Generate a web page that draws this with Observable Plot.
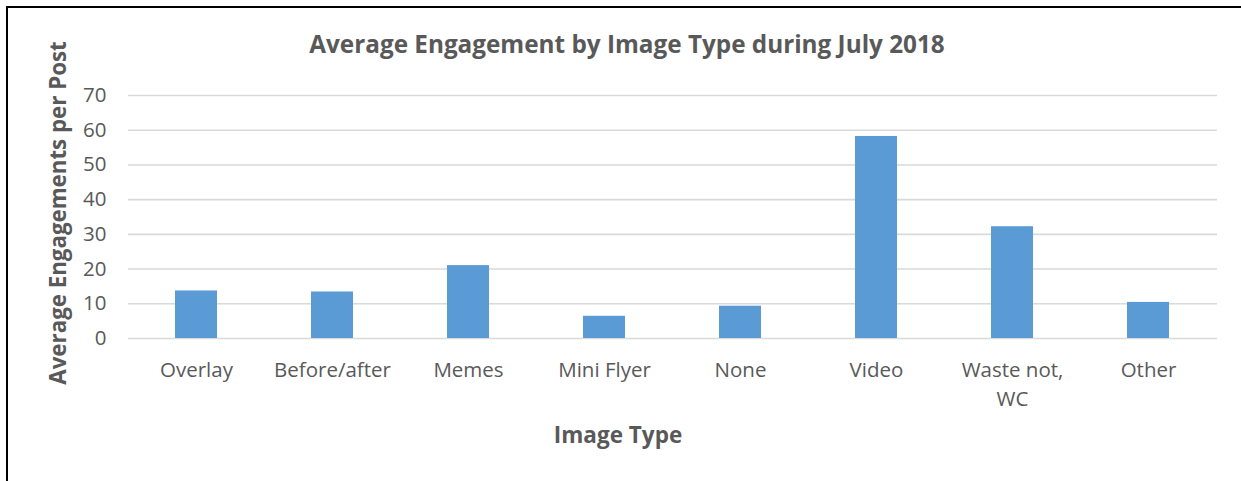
<!DOCTYPE html>
<html>
<head>
<meta charset="utf-8">
<script src="https://cdn.jsdelivr.net/npm/d3@7"></script>
<script src="https://cdn.jsdelivr.net/npm/@observablehq/plot@0.6"></script>
<style>
  html, body { margin: 0; padding: 0; background: #fff; }
  #wrap { position: relative; width: 1241px; height: 481px; overflow: hidden; }
  #frame { position: absolute; left: 6px; top: 6px; right: -10px; bottom: -10px;
           border-left: 2px solid #000; border-top: 2px solid #000; }
  #chart { position: absolute; left: 0; top: 0; }
</style>
</head>
<body>
<div id="wrap">
  <div id="frame"></div>
  <div id="chart"></div>
</div>
<script>
// Average engagements per post, by image type (July 2018)
const categories = ["Overlay", "Before/after", "Memes", "Mini Flyer", "None", "Video", "Waste not, WC", "Other"];
const engagements = [13.7, 13.4, 21.0, 6.4, 9.3, 58.2, 32.2, 10.4];
const tickLabels = ["Overlay", "Before/after", "Memes", "Mini Flyer", "None", "Video", "Waste not,\nWC", "Other"];
const yTicks = [0, 10, 20, 30, 40, 50, 60, 70];

const title = "Average Engagement by Image Type during July 2018";
const xTitle = "Image Type";
const yTitle = "Average Engagements per Post";

const rows = categories.map((c, i) => ({type: c, value: engagements[i]}));
const font = "'Open Sans', sans-serif";
const textColor = "#595959";

const chart = Plot.plot({
  width: 1241,
  height: 481,
  marginTop: 95,
  marginBottom: 143,
  marginLeft: 128,
  marginRight: 24,
  style: {fontFamily: font, color: textColor, background: "transparent", overflow: "visible"},
  x: {domain: categories, paddingInner: 0.69, paddingOuter: 0.345},
  y: {domain: [0, 70]},
  marks: [
    Plot.gridY(yTicks, {stroke: "#d9d9d9", strokeOpacity: 1, strokeWidth: 1.6}),
    Plot.barY(rows, {x: "type", y: "value", fill: "#5b9bd5"}),
    Plot.axisY({ticks: yTicks, tickSize: 0, tickPadding: 22, fontSize: 20.5, label: null, fill: textColor}),
    Plot.axisX({tickSize: 0, tickPadding: 19, fontSize: 20.5, label: null, lineHeight: 1.37, fill: textColor,
                tickFormat: d => tickLabels[categories.indexOf(d)]}),
    Plot.text([title], {frameAnchor: "top", lineAnchor: "middle", dx: -46, dy: -50, fontSize: 24.3, fontWeight: "bold", fill: textColor}),
    Plot.text([xTitle], {frameAnchor: "bottom", lineAnchor: "middle", dx: -55, dy: 97, fontSize: 22.5, fontWeight: "bold", fill: textColor}),
    Plot.text([yTitle], {frameAnchor: "left", textAnchor: "middle", dx: -70, dy: -4, rotate: -90, fontSize: 22.3, fontWeight: "bold", fill: textColor})
  ]
});

document.getElementById("chart").appendChild(chart);
</script>
</body>
</html>
